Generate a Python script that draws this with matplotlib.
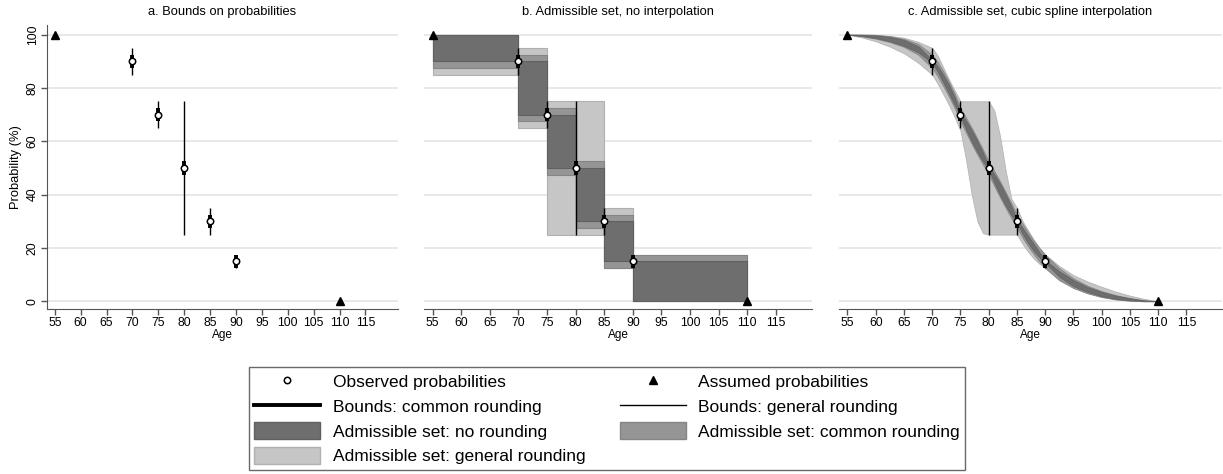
import numpy as np
import matplotlib
matplotlib.use('Agg')
import matplotlib.pyplot as plt
from matplotlib.lines import Line2D
from matplotlib.patches import Patch

plt.rcParams['font.family'] = ['Liberation Sans', 'DejaVu Sans']

# observed / assumed probabilities
ages_obs = [70, 75, 80, 85, 90]
p_obs = [90, 70, 50, 30, 15]
ages_assumed = [55, 110]
p_assumed = [100, 0]

# bounds from rounding
common_lo = [87.5, 67.5, 47.5, 27.5, 12.5]
common_hi = [92.5, 72.5, 52.5, 32.5, 17.5]
general_lo = [85, 65, 25, 25, 12.5]
general_hi = [95, 75, 75, 35, 17.5]

# cubic spline admissible sets
ages_c = [55, 57.5, 60, 62.5, 65, 67.5, 70, 71, 72, 73, 74, 75, 76, 77, 78, 79,
          80, 81, 82, 83, 84, 85, 86, 87, 88, 89, 90, 92.5, 95, 97.5, 100,
          102.5, 105, 107.5, 110]
none_lo = [100, 99.5, 98.7, 97.5, 95.8, 93.4, 89.5, 86, 81.9, 77.8, 73.6, 69.5,
           64.4, 59.9, 55.9, 52.4, 49.5, 44.4, 39.9, 35.9, 32.4, 29.5, 25.3, 21.8,
           18.8, 16.5, 14.5, 9.2, 5.7, 3.5, 1.9, 0.9, 0.4, 0.1, 0]
none_hi = [100, 99.9, 99.7, 99.1, 98, 95.6, 90.5, 88, 84.7, 81, 76.4, 70.5,
           67.6, 64.1, 60.1, 55.6, 50.5, 47.6, 44.1, 40.1, 35.6, 30.5, 27.5, 24.4,
           21.4, 18.3, 15.5, 11.2, 7.9, 5.3, 3.5, 2.1, 1.1, 0.3, 0]
comm_lo = [100, 99.4, 98.5, 97.2, 95.4, 92.5, 87.5, 84.3, 80.5, 76.6, 72.3, 67.5,
           63.2, 59, 55, 51.2, 47.5, 43.2, 39, 35, 31.2, 27.5, 23.8, 20.5, 17.6,
           14.9, 12.5, 8, 5, 3, 1.6, 0.7, 0.2, 0, 0]
comm_hi = [100, 100, 99.9, 99.4, 98.4, 96.5, 92.5, 89.7, 86.1, 82.2, 77.7, 72.5,
           68.8, 65, 61, 56.8, 52.5, 48.8, 45, 41, 36.8, 32.5, 29, 25.7, 22.6,
           19.9, 17.5, 12.4, 8.6, 5.8, 3.8, 2.3, 1.2, 0.4, 0]
gen_lo = [100, 99, 97.5, 95.5, 93, 89.5, 85, 81.5, 77.5, 73.5, 69, 64, 53, 40,
          30, 25.5, 25, 25, 25, 25, 25, 25, 21.5, 18.5, 16, 14, 12.5, 7.8, 5, 3,
          1.6, 0.7, 0.2, 0, 0]
gen_hi = [100, 100, 99.9, 99.5, 98.8, 97.3, 95, 92, 87.5, 83, 79, 75, 75, 75, 75,
          75, 75, 71.5, 62, 49, 38.5, 35, 30, 26.5, 23, 20, 17.5, 13.2, 9.8, 7.4,
          5.4, 3.6, 2.1, 0.9, 0]

xticks = list(range(55, 120, 5))
yticks = [0, 20, 40, 60, 80, 100]
titles = ['a. Bounds on probabilities',
          'b. Admissible set, no interpolation',
          'c. Admissible set, cubic spline interpolation']

c_dark = '#6e6e6e'
c_med = '#959595'
c_light = '#c6c6c6'
axis_col = '#555555'
grid_col = '#e2e2e2'

W, H = 1223, 474
fig = plt.figure(figsize=(W / 100, H / 100), dpi=100)

def box(l, r, t=25, b=309):
    return [l / W, 1 - b / H, (r - l) / W, (b - t) / H]

axes = [fig.add_axes(box(47, 398)), fig.add_axes(box(424, 812)),
        fig.add_axes(box(839, 1222))]

for i, ax in enumerate(axes):
    ax.set_xlim(53.5, 121.3)
    ax.set_ylim(-2.9, 103.6)
    ax.set_xticks(xticks)
    ax.set_yticks(yticks)
    for y in yticks:
        ax.axhline(y, color=grid_col, lw=1.1, zorder=0)
    for s in ['top', 'right']:
        ax.spines[s].set_visible(False)
    ax.spines['bottom'].set_color(axis_col)
    ax.spines['left'].set_color(axis_col)
    ax.tick_params(axis='x', colors=axis_col, labelcolor='black', labelsize=8.8,
                   length=4, width=1, pad=1.5)
    ax.set_xlabel('Age', fontsize=8.5, labelpad=0.5)
    ax.set_title(titles[i], fontsize=9.3, pad=7)
    if i == 0:
        ax.tick_params(axis='y', colors=axis_col, labelcolor='black', labelsize=8.8,
                       length=4, width=1, pad=2)
        for lab in ax.get_yticklabels():
            lab.set_rotation(90)
            lab.set_va('center')
        ax.set_ylabel('Probability (%)', fontsize=9.3, labelpad=3)
    else:
        ax.spines['left'].set_visible(False)
        ax.tick_params(axis='y', left=False, labelleft=False)

# panel b: step admissible sets
all_ages = ages_assumed[:1] + ages_obs + ages_assumed[1:]
sets = [
    ([100] + general_lo + [0], [100] + general_hi + [0], c_light, '#b0b0b0'),
    ([100] + common_lo + [0], [100] + common_hi + [0], c_med, '#858585'),
    ([100] + p_obs + [0], [100] + p_obs + [0], c_dark, '#606060'),
]
axb = axes[1]
for lo, hi, fc, ec in sets:
    left = np.array(all_ages[:-1])
    width = np.diff(all_ages)
    bottom = np.array(lo[1:])
    top = np.array(hi[:-1])
    axb.bar(left, top - bottom, width=width, bottom=bottom, align='edge',
            color=fc, edgecolor=ec, linewidth=0.8, zorder=2)

# panel c: spline admissible sets
axc = axes[2]
axc.fill_between(ages_c, gen_lo, gen_hi, color=c_light, edgecolor='#b5b5b5',
                 linewidth=0.6, zorder=2)
axc.fill_between(ages_c, comm_lo, comm_hi, color=c_med, edgecolor='#888888',
                 linewidth=0.6, zorder=3)
axc.fill_between(ages_c, none_lo, none_hi, color=c_dark, edgecolor='#646464',
                 linewidth=0.6, zorder=4)

# bounds and points in every panel
for ax in axes:
    ax.vlines(ages_obs, general_lo, general_hi, color='black', lw=1.0, zorder=6)
    ax.vlines(ages_obs, common_lo, common_hi, color='black', lw=2.8, zorder=7)
    ax.plot(ages_obs, p_obs, 'o', ms=4.6, mfc='white', mec='black', mew=1.1,
            zorder=8, clip_on=False)
    ax.plot(ages_assumed, p_assumed, '^', ms=6, color='black', zorder=8,
            clip_on=False)

handles = [
    Line2D([], [], ls='none', marker='o', ms=4.6, mfc='white', mec='black', mew=1.1),
    Line2D([], [], color='black', lw=2.8),
    Patch(facecolor=c_dark, edgecolor='#606060'),
    Patch(facecolor=c_light, edgecolor='#b0b0b0'),
    Line2D([], [], ls='none', marker='^', ms=6, color='black'),
    Line2D([], [], color='black', lw=1.0),
    Patch(facecolor=c_med, edgecolor='#858585'),
]
labels = ['Observed probabilities', 'Bounds: common rounding',
          'Admissible set: no rounding', 'Admissible set: general rounding',
          'Assumed probabilities', 'Bounds: general rounding',
          'Admissible set: common rounding']
leg = fig.legend(handles, labels, ncol=2, loc='center',
                 bbox_to_anchor=(607 / W, 1 - 418.5 / H), fontsize=12.5,
                 frameon=True, fancybox=False, edgecolor='#444444',
                 handlelength=3.8, handleheight=1.1, handletextpad=0.7,
                 columnspacing=2.0, labelspacing=0.44, borderpad=0.3)
leg.get_frame().set_linewidth(1.0)

fig.savefig('out.png', dpi=100)
